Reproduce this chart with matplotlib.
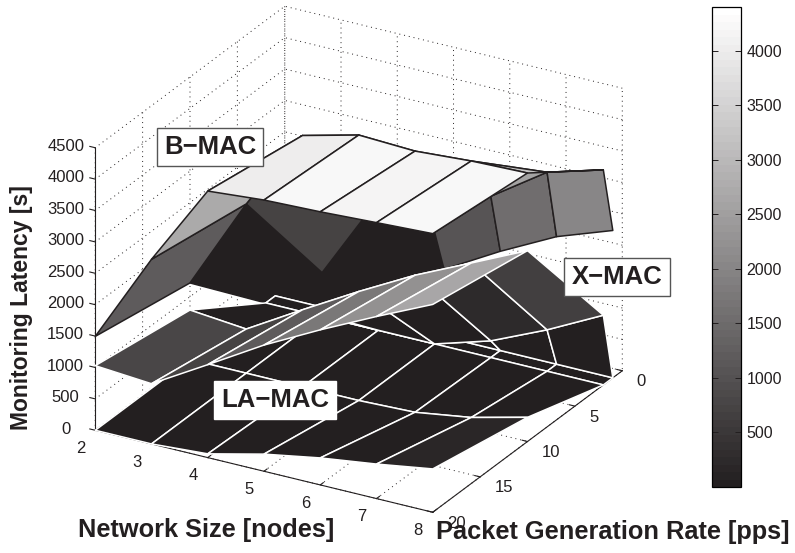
import numpy as np
import matplotlib
matplotlib.use("Agg")
import matplotlib.pyplot as plt
from matplotlib import cm
from matplotlib.colors import LinearSegmentedColormap

plt.rcParams['font.family'] = ['Liberation Sans', 'DejaVu Sans']
plt.rcParams['text.color'] = '#231f20'
plt.rcParams['xtick.color'] = '#231f20'
plt.rcParams['ytick.color'] = '#231f20'

# network size and packet rate grids
sizes = [2, 3, 4, 5, 6, 7, 8]
rates = [1, 2, 10, 20]

# rows follow rates, columns follow sizes
bmac = [
    [0, 0, 0, 1077, 1580, 2031, 2347],
    [0, 700, 2090, 1780, 2570, 3170, 3425],
    [1220, 2696, 4003, 4228, 4190, 4250, 4276],
    [1495, 2940, 4245, 4320, 4350, 4395, 4437],
]
xmac = [
    [0, 0, 0, 0, 0, 0, 0],
    [0, 0, 0, 0, 267, 660, 1110],
    [788, 703, 1228, 1736, 2213, 2625, 3040],
    [1029, 959, 1480, 2010, 2470, 2900, 3310],
]
lamac = [
    [0, 0, 0, 0, 0, 0, 0],
    [0, 0, 0, 0, 0, 0, 0],
    [0, 0, 0, 0, 30, 165, 385],
    [0, 0, 60, 273, 430, 550, 690],
]
xticks = [2, 3, 4, 5, 6, 7, 8]
yticks = [0, 5, 10, 15, 20]
zticks = [0, 500, 1000, 1500, 2000, 2500, 3000, 3500, 4000, 4500]
cticks = [500, 1000, 1500, 2000, 2500, 3000, 3500, 4000]

# gray map, the dark end is the print black of the figure
gray = LinearSegmentedColormap.from_list('print_gray', ['#231f20', '#ffffff'], N=64)
norm = plt.Normalize(0, 4400)

fig = plt.figure(figsize=(7.95, 5.53), dpi=100)
ax = fig.add_axes([2 / 795, 37 / 553, 700 / 795, 500 / 553], projection='3d')
ax.set_proj_type('ortho')
ax.view_init(elev=25.2, azim=-60.3)
ax.set_box_aspect((387, 381, 311), zoom=1.22)
ax.computed_zorder = False

X, Y = np.meshgrid(sizes, rates)
for order, (Z, edge) in enumerate([(bmac, '#231f20'), (lamac, 'white'), (xmac, 'white')]):
    Z = np.array(Z, dtype=float)
    surf = ax.plot_surface(X, Y, Z, facecolors=gray(norm(Z)), rstride=1, cstride=1,
                           shade=False, linewidth=1.1, antialiased=True, zorder=order + 1)
    surf.set_edgecolor(edge)
    surf.set_clip_on(False)  # box is wider than the square 3d axes

ax.set_xlim(2, 8)
ax.set_ylim(20, 0)
ax.set_zlim(0, 4500)
ax.set_xticks(xticks)
ax.set_yticks(yticks)
ax.set_zticks(zticks)
ax.tick_params(labelsize=12, pad=0)
ax.xaxis.set_tick_params(pad=2)
ax.zaxis.set_tick_params(pad=2.5)
ax.zaxis.set_ticks_position('upper')
for a in (ax.xaxis, ax.yaxis, ax.zaxis):
    a.pane.fill = False
    a.pane.set_edgecolor('none')
    a.line.set_color('#231f20')
    a.line.set_linewidth(0.8)
    a._axinfo['grid'].update(color='#231f20', linestyle=(0, (1, 4)), linewidth=0.7)
    a._axinfo['tick'].update(inward_factor=0.0, outward_factor=0.2)
    for lab in a.get_ticklabels():
        lab.set_va('baseline')
        lab.set_clip_on(False)
for lab in ax.xaxis.get_ticklabels():
    lab.set_ha('right')
for lab in ax.yaxis.get_ticklabels():
    lab.set_ha('left')

# axis titles are placed by hand like the reference
fig.text(22 / 795, 1 - 308 / 553, 'Monitoring Latency [s]', rotation=90, fontsize=16.5, fontweight='bold', va='center', ha='center')
fig.text(78 / 795, 1 - 530 / 553, 'Network Size [nodes]', fontsize=18.3, fontweight='bold', va='center')
fig.text(436 / 795, 1 - 532 / 553, 'Packet Generation Rate [pps]', fontsize=18.3, fontweight='bold', va='center')

labels = [('B\u2212MAC', 210, 147, '#555555'), ('X\u2212MAC', 617, 277, '#555555'), ('LA\u2212MAC', 275, 400, 'white')]
for txt, xp, yp, ec in labels:
    fig.text(xp / 795, 1 - yp / 553, txt, fontsize=18.5, fontweight='bold', ha='center', va='center',
             bbox=dict(facecolor='white', edgecolor=ec, linewidth=1, boxstyle='square,pad=0.28'))

cax = fig.add_axes([712 / 795, 1 - 487 / 553, 29 / 795, 480 / 553])
sm = cm.ScalarMappable(norm=norm, cmap=gray)
cb = fig.colorbar(sm, cax=cax, ticks=cticks)
cb.ax.tick_params(labelsize=11.5, direction='in', length=4, width=0.7, left=True, right=True, pad=4)
cb.outline.set_linewidth(0.9)

fig.savefig('out.png', dpi=100)
